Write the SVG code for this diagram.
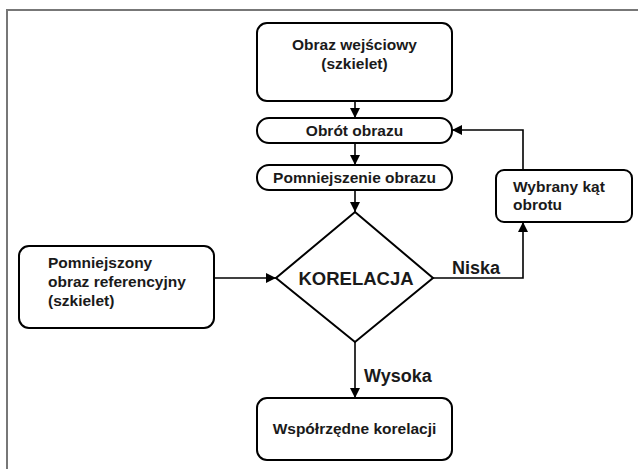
<svg xmlns="http://www.w3.org/2000/svg" width="638" height="469" viewBox="0 0 638 469">
<defs>
<marker id="ah" viewBox="0 0 10 10" refX="10" refY="5" markerWidth="10" markerHeight="10" markerUnits="userSpaceOnUse" orient="auto">
<path d="M0,0 L10,5 L0,10 z" fill="#000"/>
</marker>
<style>
.box{fill:#fff;stroke:#000;stroke-width:2}
.t{font-family:"Liberation Sans",Arial,sans-serif;font-weight:bold;font-size:15.5px;fill:#1a1a1a}
.c{text-anchor:middle}
.lb{font-size:18px}
.ln{fill:none;stroke:#000;stroke-width:1.6}
</style>
</defs>
<rect width="638" height="469" fill="#fff"/>
<path d="M7,469 V10 H638" fill="none" stroke="#777" stroke-width="2"/>
<g id="input">
<rect class="box" x="257" y="23" width="195" height="78" rx="10"/>
<text class="t c" x="354.5" y="50">Obraz wejściowy</text>
<text class="t c" x="354.5" y="69">(szkielet)</text>
</g>
<g id="rotate">
<rect class="box" x="257" y="118" width="195" height="25" rx="12"/>
<text class="t c" x="354.5" y="135.5">Obrót obrazu</text>
</g>
<g id="shrink">
<rect class="box" x="257" y="165" width="195" height="25" rx="12"/>
<text class="t c" x="354.5" y="182.5">Pomniejszenie obrazu</text>
</g>
<g id="correlation">
<polygon class="box" points="355,212 433,278 355,342 276,278"/>
<text class="t c" x="356" y="285" style="font-size:18.5px">KORELACJA</text>
</g>
<g id="reference">
<rect class="box" x="19" y="246" width="195" height="82" rx="10"/>
<text class="t" x="48" y="268">Pomniejszony</text>
<text class="t" x="48" y="287">obraz referencyjny</text>
<text class="t" x="48" y="306">(szkielet)</text>
</g>
<g id="angle">
<rect class="box" x="496" y="170" width="136" height="52" rx="8"/>
<text class="t" x="513" y="192">Wybrany kąt</text>
<text class="t" x="513" y="210">obrotu</text>
</g>
<g id="coords">
<rect class="box" x="257" y="398" width="195" height="62" rx="10"/>
<text class="t c" x="354.5" y="434">Współrzędne korelacji</text>
</g>
<g id="connectors">
<line class="ln" x1="355" y1="101" x2="355" y2="118" marker-end="url(#ah)"/>
<line class="ln" x1="355" y1="143" x2="355" y2="165" marker-end="url(#ah)"/>
<line class="ln" x1="355" y1="190" x2="355" y2="212" marker-end="url(#ah)"/>
<line class="ln" x1="214" y1="278" x2="276" y2="278" marker-end="url(#ah)"/>
<polyline class="ln" points="433,278 523,278 523,222" marker-end="url(#ah)"/>
<polyline class="ln" points="523,170 523,130 452,130" marker-end="url(#ah)"/>
<line class="ln" x1="355" y1="342" x2="355" y2="398" marker-end="url(#ah)"/>
<text class="t lb" x="452" y="274">Niska</text>
<text class="t lb" x="364" y="382">Wysoka</text>
</g>
</svg>
